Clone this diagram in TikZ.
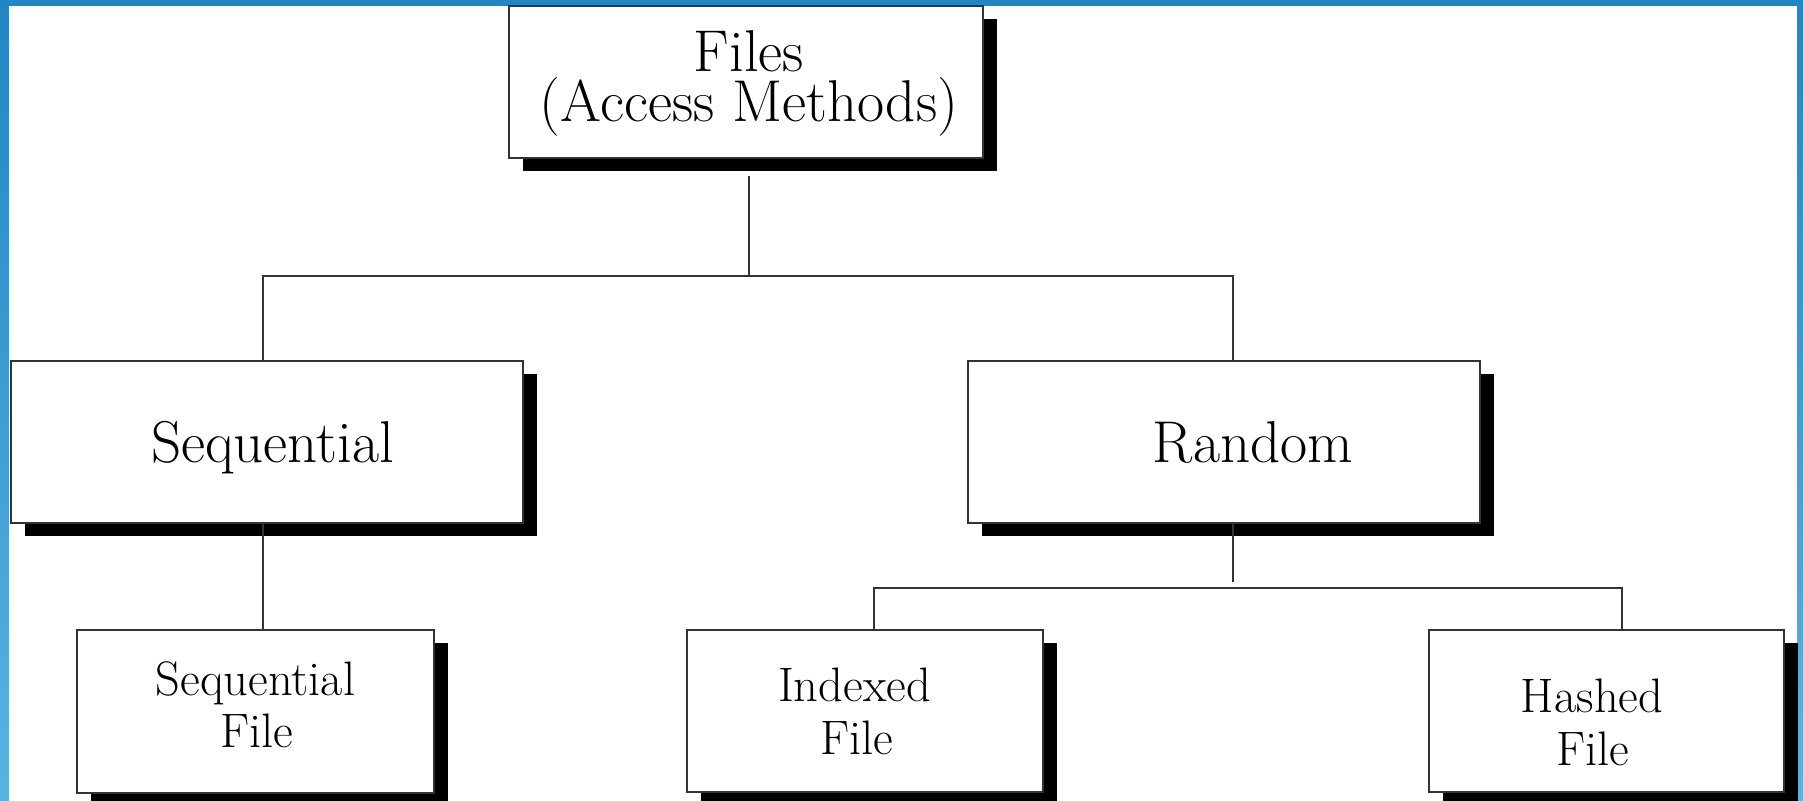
\documentclass[tikz,border=0pt]{standalone}
\usetikzlibrary{shadows}
\definecolor{frameblueA}{HTML}{2385C2}
\definecolor{frameblueB}{HTML}{5AB4E0}
\definecolor{inkgray}{HTML}{333333}
\tikzset{
  filebox/.style={draw=inkgray, line width=1pt, fill=white, inner sep=0pt,
    drop shadow={shadow xshift=7pt, shadow yshift=-6.5pt, opacity=1, fill=black}},
  bigtext/.style={font=\fontsize{29.5}{25}\selectfont, anchor=base, inner sep=0pt},
  smalltext/.style={font=\fontsize{24.2}{26}\selectfont, anchor=base, inner sep=0pt},
  link/.style={draw=inkgray, line width=1pt}
}
\begin{document}
\begin{tikzpicture}[x=0.5pt, y=-0.5pt]
  \useasboundingbox (0,0) rectangle (1803,801);
  % blue frame and white page
  \shade[top color=frameblueA, bottom color=frameblueB] (0,0) rectangle (1803,801);
  \fill[white] (9,6) rectangle (1797,801);

  % boxes
  \node[filebox, minimum width=237pt, minimum height=76pt] (files) at (746,82) {};
  \node[filebox, minimum width=256pt, minimum height=81pt] (seq) at (267,442) {};
  \node[filebox, minimum width=256pt, minimum height=81pt] (rand) at (1224,442) {};
  \node[filebox, minimum width=178.5pt, minimum height=81.5pt] (seqf) at (255.5,711.5) {};
  \node[filebox, minimum width=178pt, minimum height=81pt] (idx) at (865,711) {};
  \node[filebox, minimum width=177.5pt, minimum height=81pt] (hash) at (1606.5,711) {};

  % labels
  \node[bigtext, anchor=center, align=center] (filesA) at (749,83) {Files\\(Access Methods)};
  \node[bigtext] (seqA) at (272.5,463) {Sequential};
  \node[bigtext] (randA) at (1253,463) {Random};
  \node[smalltext] (seqfA) at (255.5,695) {Sequential};
  \node[smalltext] (seqfB) at (257,747) {File};
  \node[smalltext] (idxA) at (854.5,701.5) {Indexed};
  \node[smalltext] (idxB) at (856.5,754) {File};
  \node[smalltext] (hashA) at (1592,712.5) {Hashed};
  \node[smalltext] (hashB) at (1593,765) {File};

  % connector junctions
  \coordinate (forkA) at (749,276);
  \coordinate (forkAl) at (263,276);
  \coordinate (forkAr) at (1233,276);
  \coordinate (stubB) at (1233,582);
  \coordinate (forkBl) at (874,588);
  \coordinate (forkBr) at (1622,588);

  % connectors
  \draw[link] ([yshift=-8.5pt]files.south -| forkA) -- (forkA);
  \draw[link] (seq.north -| forkAl) -- (forkAl) -- (forkAr) -- (rand.north -| forkAr);
  \draw[link] (seq.south -| forkAl) -- (seqf.north -| forkAl);
  \draw[link] (rand.south -| stubB) -- (stubB);
  \draw[link] (idx.north -| forkBl) -- (forkBl) -- (forkBr) -- (hash.north -| forkBr);
\end{tikzpicture}
\end{document}
